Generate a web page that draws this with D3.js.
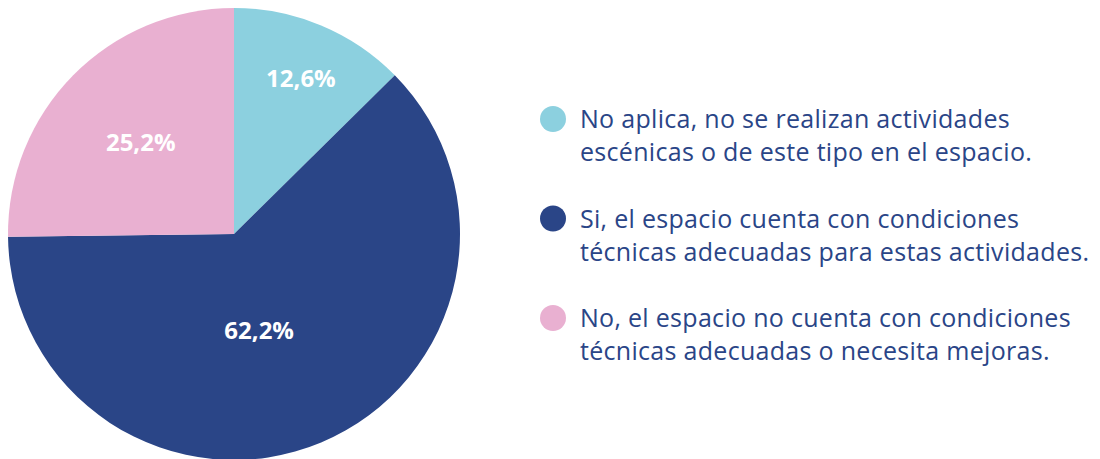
<!DOCTYPE html>
<html>
<head>
<meta charset="utf-8">
<script src="https://cdn.jsdelivr.net/npm/d3@7"></script>
<style>
  body { margin: 0; background: #fff; }
  svg { display: block; }
</style>
</head>
<body>
<div id="chart"></div>
<script>
// chart values
const categories = [
  'No aplica, no se realizan actividades|escénicas o de este tipo en el espacio.',
  'Si, el espacio cuenta con condiciones|técnicas adecuadas para estas actividades.',
  'No, el espacio no cuenta con condiciones|técnicas adecuadas o necesita mejoras.'
];
const values = [12.6, 62.2, 25.2];
const labels = ['12,6%', '62,2%', '25,2%'];
const colors = ['#8cd0df', '#2a4587', '#e9b0d1'];

// label placement (fraction of radius, angle nudge in radians)
const labelRadius = [0.75, 0.44, 0.58];
const labelNudge = [0.01, 0.14, 0];

const width = 1100, height = 459;
const cx = 234, cy = 234, radius = 226;
const textColor = '#2a4587';
const font = '"Open Sans", "Noto Sans", sans-serif';

const svg = d3.select('#chart').append('svg')
  .attr('width', width)
  .attr('height', height);

const pie = d3.pie().sort(null).value((d) => d);
const arcs = pie(values);

const arc = d3.arc().innerRadius(0).outerRadius(radius);

const g = svg.append('g').attr('transform', 'translate(' + cx + ',' + cy + ')');

g.selectAll('.slice').data(arcs)
  .join('path')
  .attr('class', 'slice')
  .attr('d', arc)
  .attr('fill', (d, i) => colors[i]);

g.selectAll('.label').data(arcs)
  .join('text')
  .attr('class', 'label')
  .attr('transform', (d, i) => {
    let a = (d.startAngle + d.endAngle) / 2 + labelNudge[i];
    let r = radius * labelRadius[i];
    return 'translate(' + (Math.sin(a) * r) + ',' + (-Math.cos(a) * r) + ')';
  })
  .attr('text-anchor', 'middle')
  .attr('dy', '0.36em')
  .attr('fill', '#fff')
  .attr('font-family', font)
  .attr('font-weight', 700)
  .attr('font-size', 24)
  .text((d, i) => labels[i]);

// legend
const legendY = d3.scalePoint().domain(d3.range(categories.length)).range([119, 318]);

const items = svg.selectAll('.legend').data(categories)
  .join('g')
  .attr('class', 'legend')
  .attr('transform', (d, i) => 'translate(553,' + legendY(i) + ')');

items.append('circle')
  .attr('r', 13)
  .attr('fill', (d, i) => colors[i]);

items.append('text')
  .attr('x', 27)
  .attr('y', 9)
  .attr('fill', textColor)
  .attr('font-family', font)
  .attr('font-size', 25)
  .attr('letter-spacing', 0.3)
  .selectAll('tspan')
  .data((d) => d.split('|'))
  .join('tspan')
  .attr('x', 27)
  .attr('dy', (d, i) => i === 0 ? 0 : 33)
  .text((d) => d);
</script>
</body>
</html>
